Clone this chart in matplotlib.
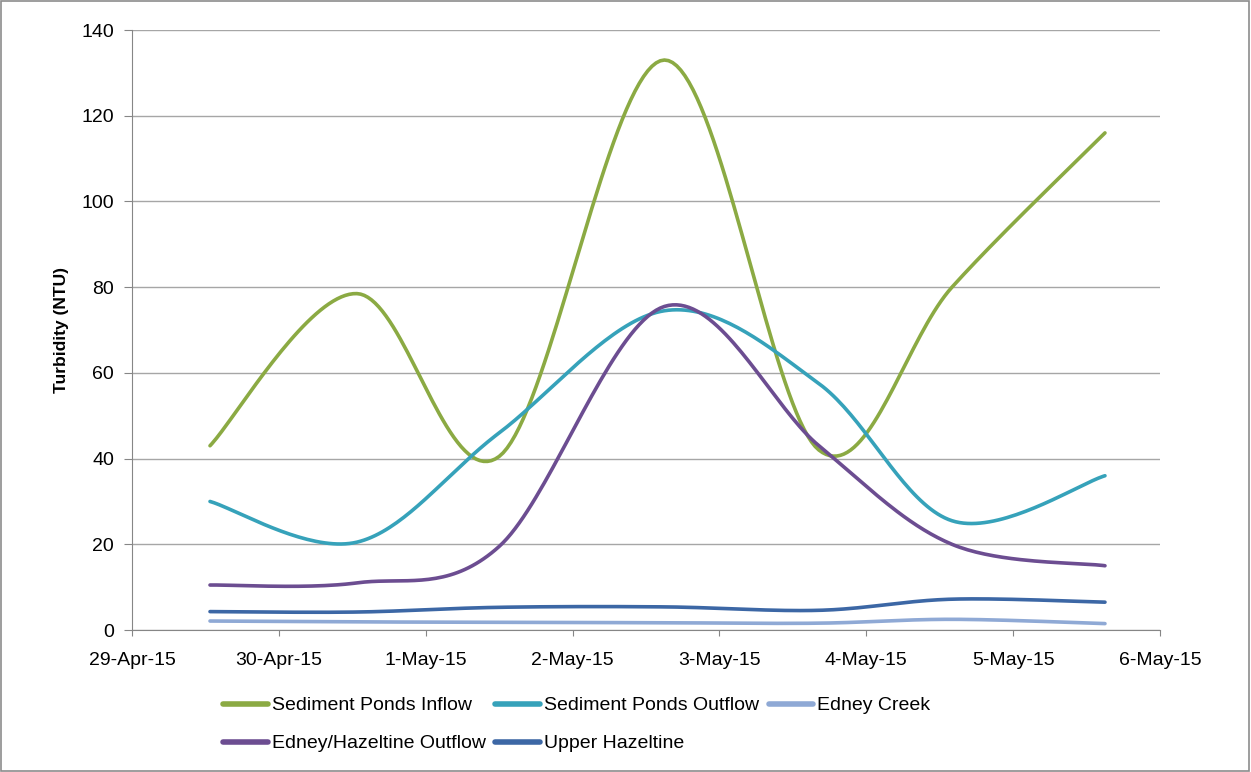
import numpy as np
import pandas as pd
import matplotlib
matplotlib.use("Agg")
import matplotlib.pyplot as plt
import matplotlib.dates as mdates
from matplotlib.patches import Rectangle

plt.rcParams['font.family'] = ['Liberation Sans', 'DejaVu Sans']

# sample times (same for every site)
times = ['2015-04-29 12:45', '2015-04-30 12:45', '2015-05-01 12:00', '2015-05-02 15:00',
         '2015-05-03 16:15', '2015-05-04 14:00', '2015-05-05 15:00']

pond_inflow = [43, 78.5, 40.5, 133, 42, 80, 116]
pond_outflow = [30, 20.5, 46, 74.5, 57.5, 25.5, 36]
edney_creek = [2.1, 1.9, 1.8, 1.7, 1.6, 2.5, 1.5]
edney_hazeltine = [10.5, 11, 19.5, 75.5, 43, 20, 15]
upper_hazeltine = [4.3, 4.2, 5.3, 5.4, 4.6, 7.2, 6.5]

names = ['Sediment Ponds Inflow', 'Sediment Ponds Outflow', 'Edney Creek',
         'Edney/Hazeltine Outflow', 'Upper Hazeltine']
colors = ['#8BAA43', '#36A2BA', '#8FA9D5', '#6C4D91', '#3C67A5']

xticks = ['2015-04-29', '2015-04-30', '2015-05-01', '2015-05-02',
          '2015-05-03', '2015-05-04', '2015-05-05', '2015-05-06']


def smooth(x, y, n=40):
    # Excel style smoothed line: bezier with tangents (P[i+1]-P[i-1])/6
    p = np.column_stack([x, y]).astype(float)
    p = np.vstack([p[0], p, p[-1]])
    out = []
    t = np.linspace(0, 1, n)[:, None]
    for i in range(1, len(p) - 2):
        p0, p1, p2, p3 = p[i - 1], p[i], p[i + 1], p[i + 2]
        c1 = p1 + (p2 - p0) / 6
        c2 = p2 - (p3 - p1) / 6
        seg = ((1 - t) ** 3) * p1 + 3 * ((1 - t) ** 2) * t * c1 + 3 * (1 - t) * t ** 2 * c2 + t ** 3 * p2
        out.append(seg if i == 1 else seg[1:])
    out = np.vstack(out)
    return out[:, 0], out[:, 1]


x = mdates.date2num(pd.to_datetime(times))

fig = plt.figure(figsize=(12.51, 7.72), dpi=100)
ax = fig.add_axes([0.1055, 0.1839, 0.8218, 0.7772])

series = [pond_inflow, pond_outflow, edney_creek, edney_hazeltine, upper_hazeltine]
lines = []
for vals, name, c in zip(series, names, colors):
    sx, sy = smooth(x, vals)
    ln, = ax.plot(sx, sy, color=c, lw=2.6, label=name, solid_capstyle='round')
    lines.append(ln)

tick_pos = mdates.date2num(pd.to_datetime(xticks))
ax.set_xlim(tick_pos[0], tick_pos[-1])
ax.set_xticks(tick_pos)
ax.set_xticklabels([pd.Timestamp(d).strftime('%-d-%b-%y') for d in xticks])
ax.set_ylim(0, 140)
ax.set_yticks(np.arange(0, 141, 20))

ax.grid(axis='y', color='#A6A6A6', lw=1)
ax.set_axisbelow(True)
for s in ['top', 'right']:
    ax.spines[s].set_visible(False)
for s in ['left', 'bottom']:
    ax.spines[s].set_color('#868686')
ax.tick_params(axis='both', colors='#868686', labelcolor='black', labelsize=14)
ax.tick_params(axis='x', length=4.5, pad=11)
ax.tick_params(axis='y', length=6, pad=7)

ax.set_ylabel('Turbidity (NTU)', fontsize=12.5, fontweight='bold', labelpad=9)

order = [0, 3, 1, 4, 2]
leg = fig.legend([lines[i] for i in order], [names[i] for i in order], ncol=3,
                 loc='upper left', bbox_to_anchor=(0.172, 0.1075), frameon=False,
                 fontsize=14, handlelength=2.3, handletextpad=0.2, columnspacing=0.5,
                 labelspacing=1.05, borderaxespad=0)
for h in leg.get_lines():
    h.set_linewidth(4)

fig.patches.append(Rectangle((0.0005, 0.001), 0.998, 0.998, transform=fig.transFigure,
                             fill=False, edgecolor='#8C8C8C', lw=1.2))

fig.savefig('out.png', dpi=100)
